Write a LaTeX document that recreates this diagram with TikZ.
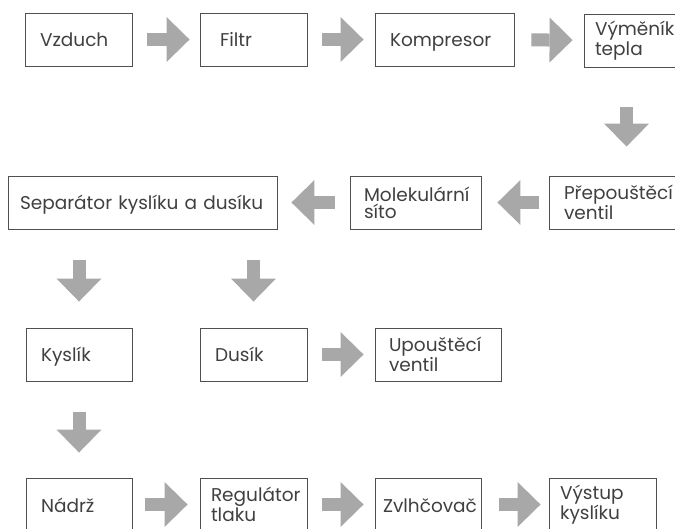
\documentclass[tikz,border=0pt]{standalone}
\usepackage{fontspec}
\setmainfont{Poppins}
\usetikzlibrary{arrows.meta}

\definecolor{boxline}{HTML}{505050}
\definecolor{flowgray}{HTML}{A8A8A8}
\definecolor{txt}{HTML}{404040}

\tikzset{
  box/.style={draw=boxline, line width=0.9pt, text=txt, minimum height=53pt,
    align=left, inner ysep=0pt, font=\fontsize{18.5}{17}\selectfont},
  oneline/.style={box, text height=16pt, text depth=1pt},
  flow/.style={draw=flowgray, line width=13pt,
    -{Triangle[width=45pt,length=23pt,line width=0pt]}}
}

\begin{document}
\begin{tikzpicture}[x=1pt,y=-1pt]
        \useasboundingbox (0,0) rectangle (675,529);
        \clip (0,0) rectangle (675,529);
        % row 1
        \node[oneline, text width=77pt, inner xsep=15pt] (vzduch) at (78.5,39.5) {Vzduch};
        \node[oneline, text width=67pt, inner xsep=20pt] (filtr) at (253.5,39.5) {Filtr};
        \node[oneline, text width=109pt, inner xsep=15pt] (kompresor) at (444.5,39.5) {Kompresor};
        \node[box, text width=108pt, inner xsep=11pt] (vymenik) at (649,40.5) {Výměník\\tepla};
        % row 2
        \node[oneline, text width=245pt, inner xsep=12pt] (separator) at (142.5,202.5) {Separátor kyslíku a dusíku};
        \node[box, text width=103pt, inner xsep=14pt] (sito) at (415.5,202.5) {Molekulární\\síto};
        \node[box, text width=110pt, inner xsep=15pt] (prepousteci) at (619,202.5) {Přepouštěcí\\ventil};
        % row 3
        \node[oneline, text width=76pt, inner xsep=15pt] (kyslik) at (79,354.5) {Kyslík};
        \node[oneline, text width=77pt, inner xsep=15pt] (dusik) at (253.5,354.5) {Dusík};
        \node[box, text width=98pt, inner xsep=14pt] (upousteci) at (438,354.5) {Upouštěcí\\ventil};
        % row 4
        \node[oneline, text width=76pt, inner xsep=15pt] (nadrz) at (79,504.5) {Nádrž};
        \node[box, text width=85pt, inner xsep=11pt] (regulator) at (253.5,504.5) {Regulátor\\tlaku};
        \node[oneline, text width=90pt, inner xsep=8pt] (zvlhcovac) at (428,504.5) {Zvlhčovač};
        \node[box, text width=85pt, inner xsep=11pt] (vystup) at (602.5,504.5) {Výstup\\kyslíku};

        \draw[flow, shorten <=15pt, shorten >=10pt] (vzduch) -- (filtr);
        \draw[flow, shorten <=15pt, shorten >=11pt] (filtr) -- (kompresor);
        \draw[flow, shorten <=17pt, shorten >=11pt] (kompresor) -- (vymenik);
        \draw[flow, shorten <=40pt, shorten >=29pt] ([xshift=43pt]vymenik.south west) -- ([xshift=78pt]prepousteci.north west);
        \draw[flow, shorten <=10pt, shorten >=16pt] (prepousteci) -- (sito);
        \draw[flow, shorten <=15pt, shorten >=14pt] (sito) -- (separator);
        \draw[flow, shorten <=31pt, shorten >=26pt] (separator.south -| kyslik) -- (kyslik);
        \draw[flow, shorten <=31pt, shorten >=26pt] (separator.south -| dusik) -- (dusik);
        \draw[flow, shorten <=15pt, shorten >=11pt] (dusik) -- (upousteci);
        \draw[flow, shorten <=31pt, shorten >=25pt] (kyslik) -- (nadrz);
        \draw[flow, shorten <=13pt, shorten >=12pt] (nadrz) -- (regulator);
        \draw[flow, shorten <=15pt, shorten >=11pt] (regulator) -- (zvlhcovac);
        \draw[flow, shorten <=18pt, shorten >=8pt] (zvlhcovac) -- (vystup);
    \end{tikzpicture}
\end{document}
